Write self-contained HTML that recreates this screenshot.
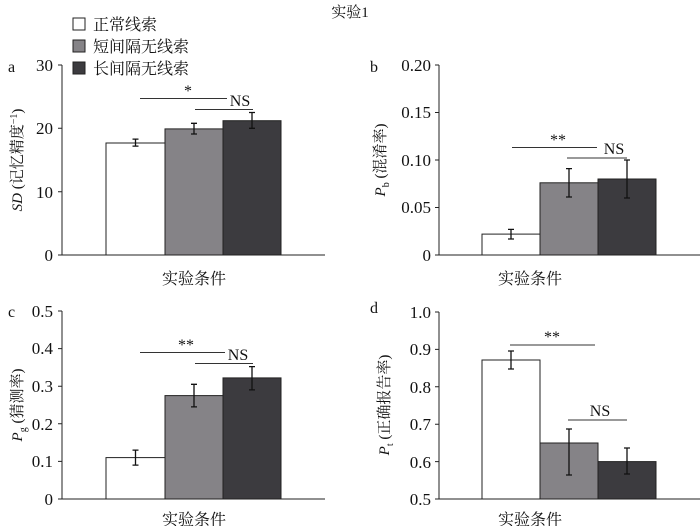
<!DOCTYPE html>
<html><head><meta charset="utf-8"><style>
body{margin:0;background:#fff}
svg text{font-family:"Liberation Serif","Noto Serif CJK SC",serif;fill:#111}
</style></head><body>
<svg width="700" height="526" viewBox="0 0 700 526" xmlns="http://www.w3.org/2000/svg">
<g font-size="16">
<text x="350" y="17" text-anchor="middle" font-size="15">实验1</text>
<!-- legend -->
<rect x="73" y="18" width="12" height="12" fill="#fff" stroke="#222"/>
<text x="93" y="30" font-size="16">正常线索</text>
<rect x="73" y="40" width="12" height="12" fill="#858387" stroke="#222"/>
<text x="93" y="52" font-size="16">短间隔无线索</text>
<rect x="73" y="62" width="12" height="12" fill="#3c3b3f" stroke="#222"/>
<text x="93" y="74" font-size="16">长间隔无线索</text>

<!-- Panel a -->
<text x="8" y="72">a</text>
<g stroke="#222" fill="none"><path d="M62 65V255H325"/><path d="M58 65H62M58 128.3H62M58 191.7H62M58 255H62"/></g>
<g text-anchor="end" font-size="17"><text x="53" y="71">30</text><text x="53" y="134">20</text><text x="53" y="198">10</text><text x="53" y="261">0</text></g>
<rect x="106" y="143" width="59" height="112" fill="#fff" stroke="#222"/>
<rect x="165" y="128.9" width="58" height="126.1" fill="#858387" stroke="#222"/>
<rect x="223" y="120.7" width="58" height="134.3" fill="#3c3b3f" stroke="#222"/>
<g stroke="#111" stroke-width="1.3"><path d="M135.5 139.1V146.1M132.5 139.1H138.5M132.5 146.1H138.5"/><path d="M194 123.3V134M191 123.3H197M191 134H197"/><path d="M252 112.5V128.3M249 112.5H255M249 128.3H255"/></g>
<g stroke="#333"><path d="M140 98.5H227M195 109.5H253"/></g>
<text x="188" y="96" text-anchor="middle">*</text>
<text x="240" y="106" text-anchor="middle" font-size="16">NS</text>
<text x="194" y="284" text-anchor="middle">实验条件</text>
<text transform="translate(22 160) rotate(-90)" text-anchor="middle" font-size="15"><tspan font-style="italic">SD</tspan> (记忆精度<tspan font-size="10" dy="-5">−1</tspan><tspan dy="5">)</tspan></text>

<!-- Panel b -->
<text x="370" y="72">b</text>
<g stroke="#222" fill="none"><path d="M439 65V255H700"/><path d="M435 65H439M435 112.5H439M435 160H439M435 207.5H439M435 255H439"/></g>
<g text-anchor="end" font-size="17"><text x="431" y="71">0.20</text><text x="431" y="118">0.15</text><text x="431" y="166">0.10</text><text x="431" y="213">0.05</text><text x="431" y="261">0</text></g>
<rect x="482" y="234.1" width="58" height="20.9" fill="#fff" stroke="#222"/>
<rect x="540" y="182.8" width="58" height="72.2" fill="#858387" stroke="#222"/>
<rect x="598" y="179" width="58" height="76" fill="#3c3b3f" stroke="#222"/>
<g stroke="#111" stroke-width="1.3"><path d="M511 229.4V239M508 229.4H514M508 239H514"/><path d="M569 168.6V197M566 168.6H572M566 197H572"/><path d="M627 160V198M624 160H630M624 198H630"/></g>
<g stroke="#333"><path d="M512 147.5H597M567 158H627"/></g>
<text x="558" y="145" text-anchor="middle">**</text>
<text x="614" y="154" text-anchor="middle" font-size="16">NS</text>
<text x="530" y="284" text-anchor="middle">实验条件</text>
<text transform="translate(385 160) rotate(-90)" text-anchor="middle" font-size="15"><tspan font-style="italic">P</tspan><tspan font-size="10" dy="4">b</tspan><tspan dy="-4"> (混淆率)</tspan></text>

<!-- Panel c -->
<text x="8" y="317">c</text>
<g stroke="#222" fill="none"><path d="M62 311V499H325"/><path d="M58 311H62M58 348.6H62M58 386.2H62M58 423.8H62M58 461.4H62M58 499H62"/></g>
<g text-anchor="end" font-size="17"><text x="53" y="317">0.5</text><text x="53" y="354">0.4</text><text x="53" y="392">0.3</text><text x="53" y="430">0.2</text><text x="53" y="467">0.1</text><text x="53" y="505">0</text></g>
<rect x="106" y="457.6" width="59" height="41.4" fill="#fff" stroke="#222"/>
<rect x="165" y="395.6" width="58" height="103.4" fill="#858387" stroke="#222"/>
<rect x="223" y="377.9" width="58" height="121.1" fill="#3c3b3f" stroke="#222"/>
<g stroke="#111" stroke-width="1.3"><path d="M135.5 450.1V465.1M132.5 450.1H138.5M132.5 465.1H138.5"/><path d="M194 384.3V406.9M191 384.3H197M191 406.9H197"/><path d="M252 366.6V389.9M249 366.6H255M249 389.9H255"/></g>
<g stroke="#333"><path d="M140 352.5H225M195 363.5H253"/></g>
<text x="186" y="350" text-anchor="middle">**</text>
<text x="238" y="360" text-anchor="middle" font-size="16">NS</text>
<text x="194" y="525" text-anchor="middle">实验条件</text>
<text transform="translate(22 405) rotate(-90)" text-anchor="middle" font-size="15"><tspan font-style="italic">P</tspan><tspan font-size="10" dy="4">g</tspan><tspan dy="-4"> (猜测率)</tspan></text>

<!-- Panel d -->
<text x="370" y="313">d</text>
<g stroke="#222" fill="none"><path d="M439 312V499H700"/><path d="M435 312H439M435 349.4H439M435 386.8H439M435 424.2H439M435 461.6H439M435 499H439"/></g>
<g text-anchor="end" font-size="17"><text x="431" y="318">1.0</text><text x="431" y="355">0.9</text><text x="431" y="393">0.8</text><text x="431" y="430">0.7</text><text x="431" y="468">0.6</text><text x="431" y="505">0.5</text></g>
<rect x="482" y="360" width="58" height="139" fill="#fff" stroke="#222"/>
<rect x="540" y="443" width="58" height="56" fill="#858387" stroke="#222"/>
<rect x="598" y="461.6" width="58" height="37.4" fill="#3c3b3f" stroke="#222"/>
<g stroke="#111" stroke-width="1.3"><path d="M511 351V369M508 351H514M508 369H514"/><path d="M569 429V475M566 429H572M566 475H572"/><path d="M627 448V474M624 448H630M624 474H630"/></g>
<g stroke="#333"><path d="M510 345H595M568 420H627"/></g>
<text x="552" y="342" text-anchor="middle">**</text>
<text x="600" y="416" text-anchor="middle" font-size="16">NS</text>
<text x="530" y="525" text-anchor="middle">实验条件</text>
<text transform="translate(389 405) rotate(-90)" text-anchor="middle" font-size="15"><tspan font-style="italic">P</tspan><tspan font-size="10" dy="4">t</tspan><tspan dy="-4"> (正确报告率)</tspan></text>
</g>
</svg>
</body></html>
